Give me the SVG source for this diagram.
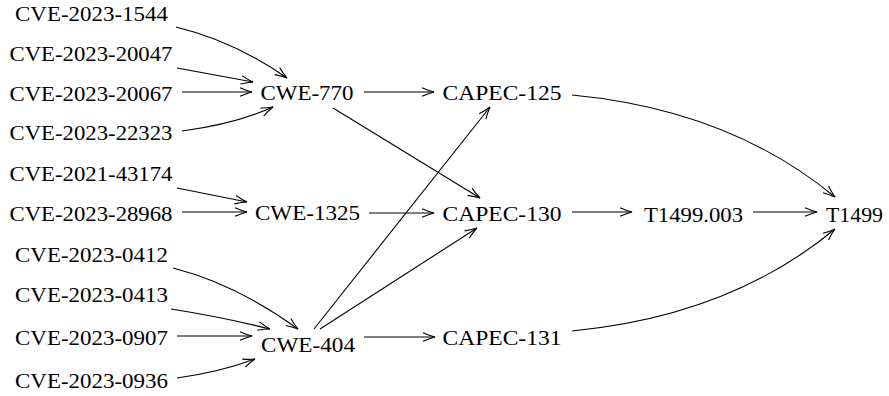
<svg xmlns="http://www.w3.org/2000/svg" width="889" height="396" viewBox="0 0 889 396">
<style>
text{font-family:"Liberation Serif","Times New Roman",serif;font-size:21.5px;fill:#000;text-anchor:middle}
.e{fill:none;stroke:#000;stroke-width:1.1;marker-end:url(#ah)}
</style>
<defs>
<marker id="ah" markerUnits="userSpaceOnUse" markerWidth="16" markerHeight="12" viewBox="-14 -6 16 12" refX="0" refY="0" orient="auto" overflow="visible">
<path d="M-12,-4.3 Q-5,-1.2 0,0 Q-5,1.2 -12,4.3" fill="none" stroke="#000" stroke-width="1.1"/>
</marker>
</defs>
<rect width="889" height="396" fill="#fff"/>
<g id="connectors">
<path class="e" d="M176,27 Q234,41 287,78"/>
<path class="e" d="M177,68 L253,82"/>
<path class="e" d="M182,92 L252,92"/>
<path class="e" d="M182,131 Q235,124 273,107"/>
<path class="e" d="M364,92 L434,92"/>
<path class="e" d="M333,108 L480,198"/>
<path class="e" d="M177,188 L247,202"/>
<path class="e" d="M182,212 L247,212"/>
<path class="e" d="M369,213 L434,213"/>
<path class="e" d="M572,212 L632,212"/>
<path class="e" d="M753,212 L817,212"/>
<path class="e" d="M572,95 Q730,110 835,197"/>
<path class="e" d="M572,331 Q730,316 835,229"/>
<path class="e" d="M314,329 L490,107"/>
<path class="e" d="M320,329 L477,228"/>
<path class="e" d="M364,337 L435,337"/>
<path class="e" d="M173,268 Q236,284 298,329"/>
<path class="e" d="M171,309 Q222,317 270,329"/>
<path class="e" d="M177,336 L252,336"/>
<path class="e" d="M177,378 Q220,372 255,359"/>
</g>
<g id="cve-2023-1544"><text x="91.5" y="21" textLength="153" lengthAdjust="spacingAndGlyphs">CVE-2023-1544</text></g>
<g id="cve-2023-20047"><text x="91" y="61" textLength="163" lengthAdjust="spacingAndGlyphs">CVE-2023-20047</text></g>
<g id="cve-2023-20067"><text x="91" y="101" textLength="163" lengthAdjust="spacingAndGlyphs">CVE-2023-20067</text></g>
<g id="cve-2023-22323"><text x="91" y="139.5" textLength="163" lengthAdjust="spacingAndGlyphs">CVE-2023-22323</text></g>
<g id="cve-2021-43174"><text x="91" y="181" textLength="163" lengthAdjust="spacingAndGlyphs">CVE-2021-43174</text></g>
<g id="cve-2023-28968"><text x="91" y="221" textLength="163" lengthAdjust="spacingAndGlyphs">CVE-2023-28968</text></g>
<g id="cve-2023-0412"><text x="91.5" y="262" textLength="153" lengthAdjust="spacingAndGlyphs">CVE-2023-0412</text></g>
<g id="cve-2023-0413"><text x="91.5" y="302" textLength="153" lengthAdjust="spacingAndGlyphs">CVE-2023-0413</text></g>
<g id="cve-2023-0907"><text x="91.5" y="345" textLength="153" lengthAdjust="spacingAndGlyphs">CVE-2023-0907</text></g>
<g id="cve-2023-0936"><text x="91.5" y="388" textLength="153" lengthAdjust="spacingAndGlyphs">CVE-2023-0936</text></g>
<g id="cwe-770"><text x="307" y="100" textLength="93" lengthAdjust="spacingAndGlyphs">CWE-770</text></g>
<g id="cwe-1325"><text x="307.5" y="220" textLength="105" lengthAdjust="spacingAndGlyphs">CWE-1325</text></g>
<g id="cwe-404"><text x="308" y="352" textLength="94" lengthAdjust="spacingAndGlyphs">CWE-404</text></g>
<g id="capec-125"><text x="502" y="99.5" textLength="119" lengthAdjust="spacingAndGlyphs">CAPEC-125</text></g>
<g id="capec-130"><text x="502" y="221" textLength="119" lengthAdjust="spacingAndGlyphs">CAPEC-130</text></g>
<g id="capec-131"><text x="502" y="344.5" textLength="119" lengthAdjust="spacingAndGlyphs">CAPEC-131</text></g>
<g id="t1499-003"><text x="693.5" y="221.5" textLength="99" lengthAdjust="spacingAndGlyphs">T1499.003</text></g>
<g id="t1499"><text x="854.5" y="221.5" textLength="57" lengthAdjust="spacingAndGlyphs">T1499</text></g>
</svg>
